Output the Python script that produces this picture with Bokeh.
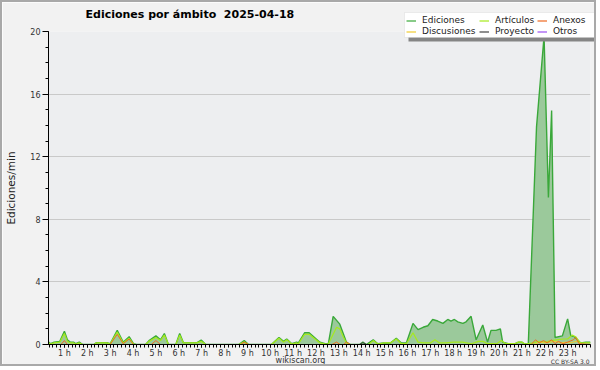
from bokeh.plotting import figure
from bokeh.models import Range1d, FixedTicker, Legend, LegendItem, Label, GridBox, BoxAnnotation
from bokeh.embed import file_html
from bokeh.resources import INLINE

# ---- data (hours of day, edits per minute) ----
ed_t = [0.31, 0.40, 0.55, 0.80, 1.00, 1.13, 1.25, 1.40, 1.50, 1.65, 1.80, 2.30, 2.40, 2.60, 2.85, 3.00,
        3.31, 3.57, 3.83, 4.02, 4.15, 4.55, 4.70, 5.00, 5.20, 5.37, 5.55, 5.87, 6.04, 6.20, 6.50, 6.80,
        6.98, 7.18, 8.62, 8.86, 9.05, 10.05, 10.38, 10.58, 10.72, 10.94, 11.15, 11.23, 11.50, 11.70,
        12.17, 12.40, 12.54, 12.75, 13.04, 13.19, 13.33, 13.50, 13.90, 14.05, 14.20, 14.50, 14.70,
        14.95, 15.25, 15.51, 15.73, 15.95, 16.24, 16.46, 16.68, 16.89, 17.10, 17.32, 17.55, 17.76,
        17.90, 18.05, 18.20, 18.42, 18.56, 18.78, 19.00, 19.29, 19.50, 19.65, 19.87, 20.06, 20.16,
        20.40, 20.70, 20.85, 21.00, 21.10, 21.28, 21.64, 21.97, 22.16, 22.30, 22.45, 22.77, 23.00,
        23.14, 23.30, 23.57, 23.80, 24.00]
ed_v = [0.15, 0.05, 0.15, 0.20, 0.85, 0.30, 0.15, 0.15, 0.05, 0.15, 0.00, 0.00, 0.12, 0.12, 0.12, 0.05,
        0.90, 0.15, 0.50, 0.05, 0.00, 0.00, 0.25, 0.55, 0.30, 0.70, 0.00, 0.00, 0.70, 0.12, 0.12, 0.12,
        0.28, 0.00, 0.00, 0.25, 0.00, 0.00, 0.45, 0.20, 0.35, 0.05, 0.15, 0.10, 0.75, 0.75,
        0.15, 0.05, 0.05, 1.80, 1.30, 0.70, 0.15, 0.00, 0.00, 0.15, 0.00, 0.30, 0.05,
        0.10, 0.10, 0.40, 0.10, 0.10, 1.35, 0.95, 1.10, 1.20, 1.60, 1.50, 1.35, 1.60,
        1.50, 1.60, 1.45, 1.35, 1.45, 1.80, 0.30, 1.25, 0.15, 0.90, 0.90, 1.00, 0.15,
        0.05, 0.05, 0.15, 0.15, 0.05, 0.00, 13.90, 19.70, 9.40, 14.95, 0.45, 0.55, 1.64,
        0.55, 0.50, 0.10, 0.15, 0.15]

art_t = [0.31, 0.40, 0.55, 0.80, 1.00, 1.13, 1.25, 1.40, 1.50, 1.65, 1.80, 2.30, 2.40, 2.60, 2.85, 3.00,
         3.31, 3.57, 3.83, 4.02, 4.15, 4.55, 4.70, 5.00, 5.20, 5.37, 5.55, 5.87, 6.04, 6.20, 6.50, 6.80,
         6.98, 7.18, 8.62, 8.86, 9.05, 10.05, 10.38, 10.58, 10.72, 10.94, 11.15, 11.23, 11.50, 11.70,
         12.17, 12.40, 12.54, 12.90, 13.04, 13.19, 13.33, 13.50, 14.30, 14.50, 14.70, 15.00, 15.25,
         15.51, 15.73, 15.95, 16.24, 16.46, 16.70, 17.00, 17.20, 17.40, 17.70, 18.00, 18.40, 18.80,
         19.10, 19.30, 19.50, 19.90, 20.10, 20.30, 20.70, 20.85, 21.00, 21.15, 21.50, 21.70, 22.00,
         22.30, 22.50, 22.80, 23.00, 23.20, 23.35, 23.55, 24.00]
art_v = [0.10, 0.03, 0.10, 0.15, 0.70, 0.20, 0.10, 0.10, 0.03, 0.10, 0.00, 0.00, 0.10, 0.10, 0.10, 0.03,
         0.80, 0.10, 0.40, 0.03, 0.00, 0.00, 0.20, 0.45, 0.25, 0.60, 0.00, 0.00, 0.60, 0.10, 0.10, 0.10,
         0.20, 0.00, 0.00, 0.15, 0.00, 0.00, 0.40, 0.15, 0.30, 0.03, 0.10, 0.05, 0.65, 0.65,
         0.10, 0.03, 0.03, 1.10, 1.00, 0.50, 0.10, 0.00, 0.00, 0.25, 0.03, 0.10, 0.10,
         0.35, 0.05, 0.05, 0.75, 0.15, 0.10, 0.10, 0.30, 0.10, 0.10, 0.15, 0.15, 0.05,
         0.20, 0.20, 0.05, 0.05, 0.25, 0.05, 0.05, 0.15, 0.15, 0.03, 0.10, 0.20, 0.15,
         0.25, 0.30, 0.35, 0.35, 0.60, 0.50, 0.10, 0.10]

anx_t = [0.31, 0.85, 1.00, 1.13, 3.00, 3.31, 3.57, 3.83, 4.02, 4.80, 5.00, 5.20, 8.70, 8.86, 9.05,
         12.70, 12.90, 13.05, 13.20, 13.33, 13.50, 21.40, 21.60, 21.75, 21.95, 22.10, 22.30, 22.45,
         22.60, 22.80, 23.00, 23.25, 23.35, 23.50, 24.00]
anx_v = [0.00, 0.00, 0.25, 0.00, 0.00, 0.65, 0.05, 0.35, 0.00, 0.00, 0.25, 0.00, 0.00, 0.15, 0.00,
         0.00, 0.15, 0.00, 0.00, 0.15, 0.00, 0.00, 0.30, 0.10, 0.25, 0.10, 0.30, 0.05,
         0.20, 0.05, 0.15, 0.30, 0.45, 0.05, 0.00]

dis_t = [0.31, 21.50, 21.80, 22.00, 22.50, 22.70, 22.90, 23.10, 23.40, 23.60, 24.00]
dis_v = [0.00, 0.00, 0.15, 0.10, 0.20, 0.10, 0.15, 0.10, 0.20, 0.00, 0.00]

pro_t = [0.31, 13.90, 14.05, 14.20, 24.00]
pro_v = [0.00, 0.00, 0.12, 0.00, 0.00]

otr_t = [0.31, 24.00]
otr_v = [0.00, 0.00]

hours = list(range(1, 24))
hour_labels = [f"{h} h" for h in hours]
y_major = [0, 4, 8, 12, 16, 20]

names = ["Ediciones", "Discusiones", "Artículos", "Proyecto", "Anexos", "Otros"]
colors = ["#3aa83a", "#f0cc30", "#a6ea1c", "#444444", "#ee6a22", "#9a4ef0"]

W, H = 596, 366

# ---- main figure ----
p = figure(width=W, height=H, output_backend="svg", toolbar_location=None,
           x_range=Range1d(0.305, 24.0), y_range=Range1d(0, 20),
           min_border_left=44, min_border_right=8, min_border_top=29, min_border_bottom=24,
           background_fill_color="#edeef0", border_fill_color="#f2f2f2", outline_line_color=None)
p.styles = {"border": "2px solid #a9a9a9"}
p.frame_align = False

p.varea(x=ed_t, y1=0, y2=ed_v, fill_color="#9bc99b", fill_alpha=1.0)
p.line(ed_t, ed_v, line_color=colors[0], line_width=1.4)
p.line(art_t, art_v, line_color=colors[2], line_width=1.2)
p.line(dis_t, dis_v, line_color=colors[1], line_width=1.0)
p.line(anx_t, anx_v, line_color=colors[4], line_width=1.0)
p.line(pro_t, pro_v, line_color=colors[3], line_width=1.0)
p.line(otr_t, otr_v, line_color=colors[5], line_width=1.0)

p.xaxis.ticker = FixedTicker(ticks=hours, minor_ticks=[i / 6 for i in range(2, 145)])
p.xaxis.major_label_overrides = {h: lab for h, lab in zip(hours, hour_labels)}
p.yaxis.ticker = FixedTicker(ticks=y_major, minor_ticks=list(range(0, 21)))
for ax in (p.xaxis[0], p.yaxis[0]):
    ax.axis_line_color = "#000000"
    ax.major_tick_line_color = "#000000"
    ax.minor_tick_line_color = "#000000"
    ax.major_tick_in = 0
    ax.minor_tick_in = 0
    ax.major_label_text_font = "DejaVu Sans"
    ax.major_label_text_font_size = "8px"
    ax.major_label_text_color = "#333333"
p.xaxis.major_tick_out = 3
p.xaxis.minor_tick_out = 3
p.xaxis.major_label_standoff = 1
p.yaxis.major_tick_out = 6
p.yaxis.minor_tick_out = 3
p.yaxis.major_label_standoff = 2
p.yaxis.axis_label = "Ediciones/min"
p.yaxis.axis_label_text_font = "DejaVu Sans"
p.yaxis.axis_label_text_font_size = "10.5px"
p.yaxis.axis_label_text_font_style = "normal"
p.yaxis.axis_label_text_color = "#222222"
p.yaxis.axis_label_standoff = 10

p.xgrid.visible = False
p.ygrid.ticker = FixedTicker(ticks=[4, 8, 12, 16, 20])
p.ygrid.grid_line_color = "#c9c9c9"

# ---- transparent overlay for title, legend and footer (canvas pixel coordinates) ----
ov = figure(width=W, height=H, output_backend="svg", toolbar_location=None,
            x_range=Range1d(0, W), y_range=Range1d(0, H),
            min_border=0, x_axis_type=None, y_axis_type=None,
            background_fill_color=None, border_fill_color=None, outline_line_color=None)
ov.styles = {"border": "2px solid transparent"}
ov.frame_align = False
ov.grid.visible = False

# legend box with drop shadow
ov.add_layout(BoxAnnotation(left=406, right=596, top=352, bottom=327,
                            fill_color="#858585", fill_alpha=1.0, line_color=None))
ov.add_layout(BoxAnnotation(left=402, right=592, top=356, bottom=331,
                            fill_color="#ffffff", fill_alpha=1.0, line_color="#c8c8c8", line_width=1))

# legend swatch proxies (kept outside the visible range)
swatches = [ov.line(x=[-30, -20], y=[-30, -30], line_color=c, line_width=1.2) for c in colors]

col_x = [404, 477, 535]
for k in range(3):
    lg = Legend(items=[LegendItem(label=names[2 * k + j], renderers=[swatches[2 * k + j]]) for j in range(2)],
                location=(col_x[k], 331.5), orientation="vertical",
                label_text_font="DejaVu Sans", label_text_font_size="9px", label_text_color="#222222",
                label_height=11, glyph_height=11, glyph_width=10, label_standoff=6,
                spacing=0, padding=1, margin=0,
                background_fill_alpha=0, border_line_color=None)
    ov.add_layout(lg)

ov.add_layout(Label(x=83, y=H - 12, x_units="screen", y_units="screen",
                    text="Ediciones por ámbito\u00a0 2025-04-18",
                    text_align="left", text_baseline="alphabetic", text_font="DejaVu Sans",
                    text_font_size="11px", text_font_style="bold", text_color="#000000"))
ov.add_layout(Label(x=298, y=8.5, x_units="screen", y_units="screen", text="wikiscan.org",
                    text_align="center", text_baseline="middle", text_font="DejaVu Sans",
                    text_font_size="8px", text_color="#333333"))
ov.add_layout(Label(x=587, y=7, x_units="screen", y_units="screen", text="CC BY-SA 3.0",
                    text_align="right", text_baseline="middle", text_font="DejaVu Sans",
                    text_font_size="6px", text_color="#333333"))

layout = GridBox(children=[(p, 0, 0), (ov, 0, 0)])

open("out.html", "w").write(file_html(layout, INLINE))
